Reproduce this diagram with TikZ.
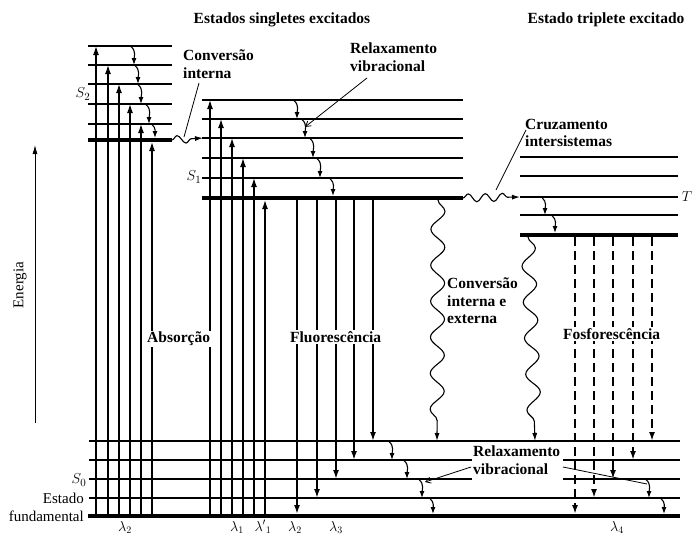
\documentclass[tikz,border=0pt]{standalone}
\usepackage{fontspec}
\setmainfont{Liberation Serif}
\usetikzlibrary{arrows.meta,decorations.pathmorphing}
\begin{document}
\begin{tikzpicture}[x=1pt,y=-1pt,
  lvl/.style={line width=1.2pt},
  lvlthick/.style={line width=3.8pt},
  up/.style={line width=1.3pt,-{Latex[length=9pt,width=6pt]}},
  dn/.style={line width=1.7pt,-{Latex[length=9pt,width=6pt]}},
  phos/.style={line width=2pt,dash pattern=on 9pt off 5pt,-{Latex[length=9pt,width=6pt]}},
  relax/.style={line width=1.1pt,-{Latex[length=7pt,width=5pt]}},
  wavyv/.style={line width=1.1pt,decorate,decoration={snake,segment length=36pt,amplitude=7pt,post length=9pt},-{Latex[length=8pt,width=5pt]}},
  wavyh/.style={line width=1.1pt,decorate,decoration={snake,segment length=17pt,amplitude=4pt,post length=10pt},-{Latex[length=8pt,width=5pt]}},
  lab/.style={font=\fontsize{15.5}{17.5}\selectfont\bfseries,align=left,inner sep=0pt},
  labbg/.style={lab,fill=white,inner sep=1pt},
  plain/.style={font=\fontsize{15}{17.5}\selectfont,inner sep=0pt},
  lam/.style={font=\fontsize{14}{16}\selectfont,inner sep=0pt,anchor=base},
  ptr/.style={line width=0.8pt},
  ptra/.style={line width=0.8pt,-{Straight Barb[length=5pt,width=6pt]}},
]
\useasboundingbox (0,0) rectangle (692,535);
% ---- levels S2
\foreach \y in {46,65,84,104,124} \draw[lvl] (88,\y) -- (172,\y);
\draw[lvlthick] (88,140) -- (172,140);
% ---- levels S1
\foreach \y in {100,119,138,158,178} \draw[lvl] (202,\y) -- (463,\y);
\draw[lvlthick] (202,198) -- (463,198);
% ---- levels T
\foreach \y in {157,176,197,215} \draw[lvl] (520,\y) -- (678,\y);
\draw[lvlthick] (520,235) -- (678,235);
% ---- levels S0
\draw[lvl] (89,441) -- (680,441);
\draw[lvl] (89,498) -- (680,498);
\foreach \y in {460,479} {\draw[lvl] (89,\y) -- (472,\y); \draw[lvl] (563,\y) -- (680,\y);}
\draw[lvlthick] (88,516) -- (680,516);
% ---- absorption
\foreach \x/\y in {96/46,108/65,119/84,130/104,141/124,152/142}
  \draw[up] (\x,514) -- (\x,\y);
\foreach \x/\y in {210/100,221/119,232/138,243/158,254/178,265/200}
  \draw[up] (\x,514) -- (\x,\y);
% ---- vibrational relaxation
\foreach \x/\a/\b in {134/46/65,138/65/84,141/84/104,149/104/124,155/124/138,
  297/100/119,305/119/138,313/138/158,320/158/178,333/178/196,
  545/197/215,555/215/233,
  392/441/460,407/460/479,422/479/498,433/498/514,649/479/498,664/498/514}
  \draw[relax] (\x-3,\a+0.5) to[out=-40,in=90] (\x,\b);
% ---- fluorescence
\foreach \x/\y in {297/514,317/498,336/479,354/460,373/441}
  \draw[dn] (\x,200) -- (\x,\y);
% ---- phosphorescence
\foreach \x/\y in {575/514,594/498,613/479,633/460,652/441}
  \draw[phos] (\x,237) -- (\x,\y);
% ---- wavy transitions
\draw[wavyv] (438,200) -- (437,441);
\draw[wavyv] (528,237) -- (535,441);
\draw[wavyh] (172,140) -- (203,138);
\draw[wavyh] (463,198) -- (520,197);
% ---- energy axis
\node[plain,rotate=90] (energia) at (20,285) {Energia};
\draw[line width=0.8pt,-{Latex[length=9pt,width=5pt]}] (35,423) -- (35,145);
% ---- state labels
\node[plain] (s2) at (83,94) {$S_2$};
\node[plain] (s1) at (194,177) {$S_1$};
\node[plain] (s0) at (79,480) {$S_0$};
\node[plain] (tt) at (687,197) {$T$};
\node[plain,anchor=east] (est) at (84,498) {Estado};
\node[plain,anchor=east] (fund) at (84,516) {fundamental};
% ---- headings
\node[lab] (hs) at (282,20) {Estados singletes excitados};
\node[lab] (ht) at (606,20) {Estado triplete excitado};
% ---- process labels
\node[lab,anchor=west] (ci) at (183,64) {Conversão\\interna};
\node[lab,anchor=west] (rv1) at (350,57) {Relaxamento\\vibracional};
\node[lab,anchor=west] (cz) at (525,133) {Cruzamento\\intersistemas};
\node[lab,anchor=west] (cie) at (447,301) {Conversão\\interna e\\externa};
\node[labbg,anchor=west] (abs) at (146,339) {Absorção};
\node[labbg,anchor=west] (flu) at (289,337) {Fluorescência};
\node[labbg,anchor=west] (fos) at (562,334) {Fosforescência};
\node[lab,anchor=west] (rv2) at (473,460) {Relaxamento\\vibracional};
% ---- pointers
\coordinate (pci) at (184,137);
\coordinate (prv1) at (305,127);
\coordinate (pcz) at (496,190);
\coordinate (prv2a) at (425,482);
\coordinate (prv2b) at (647,484);
\draw[ptr] (199,83) -- (pci);
\draw[ptra] (367,78) -- (prv1);
\draw[ptr] (526,130) -- (pcz);
\draw[ptra] (471,467) -- (prv2a);
\draw[ptr] (563,467) -- (prv2b);
% ---- wavelengths
\node[lam] (l2a) at (125,531) {$\lambda_2$};
\node[lam] (l1) at (237,531) {$\lambda_1$};
\node[lam] (l1p) at (263,531) {$\lambda'{}_1$};
\node[lam] (l2b) at (295,531) {$\lambda_2$};
\node[lam] (l3) at (336,531) {$\lambda_3$};
\node[lam] (l4) at (617,531) {$\lambda_4$};
\end{tikzpicture}
\end{document}
